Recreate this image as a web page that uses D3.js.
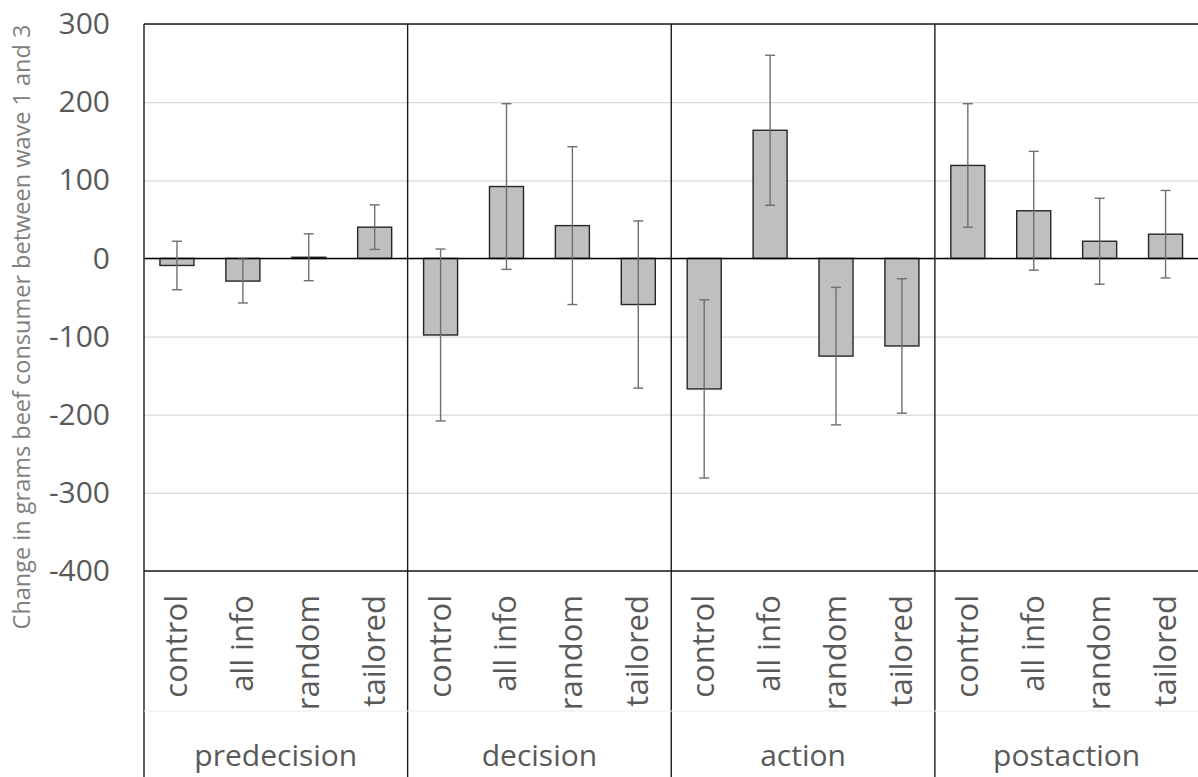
<!DOCTYPE html>
<html>
<head>
<meta charset="utf-8">
<script src="https://cdn.jsdelivr.net/npm/d3@7"></script>
<style>
  html, body { margin: 0; padding: 0; background: #fff; }
  svg { display: block; }
  text { font-family: "Open Sans", "Noto Sans", sans-serif; }
</style>
</head>
<body>
<svg id="chart" width="1198" height="777"></svg>
<script>
// ---- data ----
const groups = ["predecision", "decision", "action", "postaction"];
const treatments = ["control", "all info", "random", "tailored"];
const predecisionMeans = [-9, -29, 1.5, 40];
const decisionMeans = [-98, 92, 42, -59];
const actionMeans = [-167, 164, -125, -112];
const postactionMeans = [119, 61, 22, 31];
const predecisionErrors = [31, 28, 30, 28.5];
const decisionErrors = [110, 106, 101, 107];
const actionErrors = [114, 96, 88, 86];
const postactionErrors = [79, 76, 55, 56];
const yTicks = [300, 200, 100, 0, -100, -200, -300, -400];
const yTickLabels = ["300", "200", "100", "0", "-100", "-200", "-300", "-400"];
const yTitle = "Change in grams beef consumer between wave 1 and 3";

const meansByGroup = [predecisionMeans, decisionMeans, actionMeans, postactionMeans];
const errorsByGroup = [predecisionErrors, decisionErrors, actionErrors, postactionErrors];
const rows = [];
groups.forEach((g, gi) => treatments.forEach((t, ti) => {
  rows.push({ group: g, treatment: t, key: g + "|" + t, mean: meansByGroup[gi][ti], err: errorsByGroup[gi][ti] });
}));

// ---- layout ----
const W = 1198, H = 777;
const mLeft = 144, mRight = 1198.5, mTop = 24, mBottom = 571;
const svg = d3.select("#chart");

const y = d3.scaleLinear().domain([-400, 300]).range([mBottom, mTop]);
const xGroup = d3.scaleBand().domain(groups).range([mLeft, mRight]).padding(0);
const x = d3.scaleBand().domain(rows.map(d => d.key)).range([mLeft, mRight]).paddingInner(0.484).paddingOuter(0.242);

// gridlines
svg.append("g")
  .attr("transform", `translate(${mLeft},0)`)
  .call(d3.axisLeft(y).tickValues(yTicks).tickSize(-(mRight - mLeft)).tickFormat(""))
  .call(g => g.select(".domain").remove())
  .call(g => g.selectAll("line").attr("stroke", "#d9d9d9").attr("stroke-width", 1.2));

// y tick labels
svg.append("g")
  .attr("transform", `translate(${mLeft},0)`)
  .call(d3.axisLeft(y).tickValues(yTicks).tickSize(0).tickPadding(34)
    .tickFormat((d, i) => yTickLabels[i]))
  .call(g => g.select(".domain").remove())
  .call(g => g.selectAll("text")
    .attr("fill", "#595959")
    .style("font-size", "30px")
    .style("font-family", "'Open Sans', sans-serif"));

// bars
svg.append("g").selectAll("rect").data(rows).join("rect")
  .attr("x", d => x(d.key))
  .attr("width", x.bandwidth())
  .attr("y", d => y(Math.max(0, d.mean)))
  .attr("height", d => Math.abs(y(d.mean) - y(0)))
  .attr("fill", "#bfbfbf")
  .attr("stroke", "#262626")
  .attr("stroke-width", 1.4);

// zero line
svg.append("line")
  .attr("x1", mLeft).attr("x2", mRight)
  .attr("y1", y(0)).attr("y2", y(0))
  .attr("stroke", "#000").attr("stroke-width", 1.4);

// error bars
const eb = svg.append("g").attr("stroke", "#6f6f6f").attr("stroke-width", 1.4);
const cx = d => x(d.key) + x.bandwidth() / 2;
eb.selectAll("line.v").data(rows).join("line").attr("class", "v")
  .attr("x1", cx).attr("x2", cx)
  .attr("y1", d => y(d.mean + d.err)).attr("y2", d => y(d.mean - d.err));
eb.selectAll("line.t").data(rows).join("line").attr("class", "t")
  .attr("x1", d => cx(d) - 5).attr("x2", d => cx(d) + 5)
  .attr("y1", d => y(d.mean + d.err)).attr("y2", d => y(d.mean + d.err));
eb.selectAll("line.b").data(rows).join("line").attr("class", "b")
  .attr("x1", d => cx(d) - 5).attr("x2", d => cx(d) + 5)
  .attr("y1", d => y(d.mean - d.err)).attr("y2", d => y(d.mean - d.err));

// frame: top, bottom axis line, group dividers
const frame = svg.append("g").attr("stroke", "#1a1a1a").attr("stroke-width", 1.4);
frame.append("line").attr("x1", mLeft).attr("x2", mRight).attr("y1", mTop).attr("y2", mTop);
frame.append("line").attr("x1", mLeft).attr("x2", mRight).attr("y1", mBottom).attr("y2", mBottom);
groups.forEach(g => {
  const gx = xGroup(g);
  frame.append("line").attr("x1", gx).attr("x2", gx).attr("y1", mTop).attr("y2", H);
});

// faint separator between category and group labels
svg.append("line")
  .attr("x1", mLeft).attr("x2", mRight).attr("y1", 711).attr("y2", 711)
  .attr("stroke", "#ececec").attr("stroke-width", 1);

// category labels (rotated)
svg.append("g").selectAll("text").data(rows).join("text")
  .attr("transform", d => `translate(${cx(d) + 10},595) rotate(-90)`)
  .attr("text-anchor", "end")
  .attr("fill", "#595959")
  .style("font-size", "31px")
  .text(d => d.treatment);

// group labels
svg.append("g").selectAll("text").data(groups).join("text")
  .attr("x", d => xGroup(d) + xGroup.bandwidth() / 2)
  .attr("y", 766)
  .attr("text-anchor", "middle")
  .attr("fill", "#595959")
  .style("font-size", "30px")
  .text(d => d);

// y-axis title
svg.append("text")
  .attr("transform", `translate(30,327) rotate(-90)`)
  .attr("text-anchor", "middle")
  .attr("fill", "#7f7f7f")
  .style("font-size", "23.5px")
  .text(yTitle);
</script>
</body>
</html>
